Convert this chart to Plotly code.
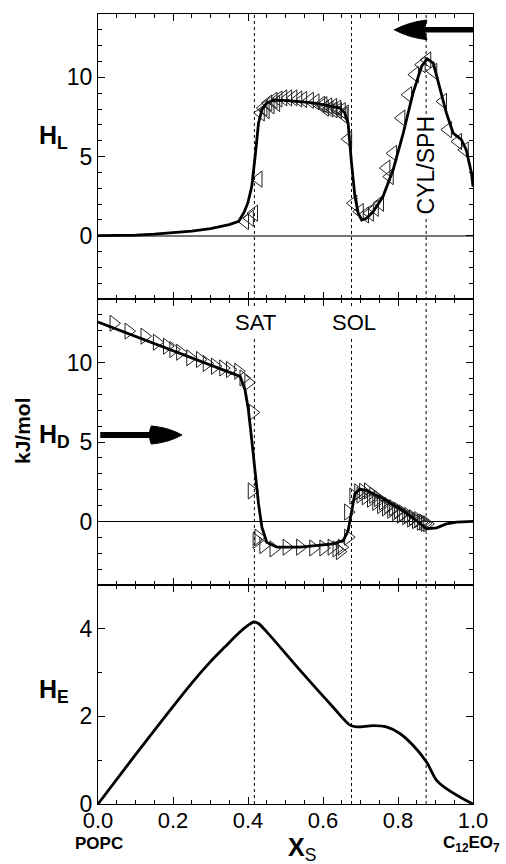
import plotly.graph_objects as go
from plotly.subplots import make_subplots

# ---------------- data ----------------
# H_L (top panel): fitted curve
hl_line_x = [0, 0.05, 0.10, 0.15, 0.20, 0.25, 0.30, 0.35, 0.375, 0.39, 0.40, 0.41, 0.419, 0.428,
             0.437, 0.45, 0.468, 0.494, 0.53, 0.574, 0.618, 0.645, 0.658, 0.667, 0.676, 0.685,
             0.694, 0.703, 0.716, 0.734, 0.76, 0.787, 0.814, 0.84, 0.863, 0.878, 0.894, 0.911,
             0.929, 0.947, 0.969, 0.982, 0.996, 1.0]
hl_line_y = [0, 0.01, 0.04, 0.10, 0.18, 0.29, 0.45, 0.70, 0.90, 1.5, 2.1, 3.1, 5.0, 7.1,
             7.96, 8.38, 8.55, 8.55, 8.48, 8.38, 8.2, 8.06, 7.75, 7.1, 4.6, 2.5,
             1.42, 0.99, 1.1, 1.52, 2.47, 4.16, 6.48, 9.0, 10.7, 11.16, 10.9, 9.43,
             7.75, 6.48, 6.06, 5.42, 3.95, 3.1]
# H_L measured points
hl_pts_x = [0.392, 0.405, 0.416, 0.428, 0.434, 0.441, 0.447, 0.454, 0.46, 0.468, 0.475, 0.481,
            0.494, 0.507, 0.521, 0.534, 0.547, 0.565, 0.58, 0.595, 0.601, 0.605, 0.614, 0.617,
            0.627, 0.628, 0.638, 0.64, 0.650, 0.655, 0.658, 0.667, 0.681, 0.698, 0.712, 0.725,
            0.738, 0.752, 0.769, 0.778, 0.787, 0.809, 0.827, 0.845, 0.863, 0.878, 0.894,
            0.920, 0.933, 0.960, 0.978]
hl_pts_y = [0.89, 1.1, 1.42, 3.57, 7.75, 8.06, 7.9, 8.38, 8.2, 8.55, 8.35, 8.63,
            8.70, 8.70, 8.70, 8.63, 8.6, 8.55, 8.45, 8.3, 8.27, 8.05, 8.2, 8.0,
            8.16, 7.95, 8.06, 7.9, 7.9, 7.6, 7.75, 6.1, 2.05, 1.52, 1.31, 1.42,
            1.73, 2.05, 4.27, 3.73, 5.2, 7.43, 8.9, 10.17, 10.8, 11.1, 10.38,
            8.48, 6.69, 5.95, 5.42]

# H_D (middle panel): fitted curve
hd_line_x = [0, 0.379, 0.392, 0.401, 0.41, 0.419, 0.428, 0.437, 0.45, 0.477, 0.539, 0.627,
             0.654, 0.667, 0.676, 0.685, 0.698, 0.716, 0.76, 0.805, 0.849, 0.876, 0.903,
             0.929, 0.956, 1.0]
hd_line_y = [12.55, 9.13, 8.29, 7.03, 5.13, 3.02, 1.12, -0.36, -1.31, -1.62, -1.62, -1.41,
             -1.2, -0.57, 0.70, 1.75, 2.02, 1.96, 1.44, 0.80, 0.06, -0.46, -0.4,
             -0.15, -0.04, 0.0]
# H_D measured points
hd_pts_x = [0.0415, 0.0815, 0.124, 0.157, 0.184, 0.201, 0.219, 0.246, 0.272, 0.29, 0.312,
            0.334, 0.352, 0.374, 0.388, 0.401, 0.413, 0.41, 0.423, 0.428, 0.441, 0.468,
            0.503, 0.539, 0.574, 0.601, 0.623, 0.636, 0.645, 0.650, 0.667, 0.667, 0.681,
            0.694, 0.70, 0.707, 0.714, 0.72, 0.728, 0.734, 0.742, 0.747, 0.755, 0.76,
            0.768, 0.774, 0.782, 0.787, 0.795, 0.80, 0.808, 0.813, 0.822, 0.827, 0.835,
            0.840, 0.848, 0.854, 0.861, 0.867, 0.872, 0.878]
hd_pts_y = [12.47, 11.98, 11.66, 11.28, 11.03, 10.82, 10.65, 10.3, 10.19, 9.94, 9.77,
            9.66, 9.56, 9.45, 9.03, 8.75, 6.86, 1.92, -1.2, -0.99, -1.52, -1.73,
            -1.62, -1.62, -1.67, -1.67, -1.62, -1.73, -1.9, -1.62, -0.99, 0.59, 1.6,
            1.86, 1.65, 1.9, 1.55, 1.92, 1.4, 1.65, 1.2, 1.44, 1.0, 1.22,
            0.85, 1.01, 0.7, 0.87, 0.55, 0.70, 0.4, 0.53, 0.3, 0.38, 0.15,
            0.23, 0.05, 0.11, -0.05, -0.04, -0.12, -0.15]

# H_E (bottom panel)
he_x = [0, 0.095, 0.184, 0.25, 0.30, 0.34, 0.37, 0.397, 0.416, 0.428, 0.45, 0.539, 0.627,
        0.672, 0.690, 0.734, 0.769, 0.805, 0.840, 0.876, 0.903, 0.929, 0.965, 1.0]
he_y = [0, 1.07, 2.05, 2.76, 3.25, 3.60, 3.86, 4.06, 4.16, 4.12, 3.93, 3.05, 2.21,
        1.80, 1.76, 1.79, 1.76, 1.61, 1.34, 0.96, 0.54, 0.35, 0.16, 0.0]

boundaries = [0.417, 0.676, 0.875]
x_ticks = [0.0, 0.2, 0.4, 0.6, 0.8, 1.0]
x_ticklabels = ["0.0", "0.2", "0.4", "0.6", "0.8", "1.0"]

# ---------------- figure ----------------
FONT = "Liberation Sans, Arial, Helvetica, sans-serif"
W, H = 506, 864
L, R, T, B = 98, 33, 14, 60

fig = make_subplots(rows=3, cols=1, shared_xaxes=True, vertical_spacing=0,
                    row_heights=[285, 286, 219])

line_style = dict(color="black", width=2.8)
mk_l = dict(symbol="triangle-left-open", size=14, color="#222", line=dict(width=1))
mk_r = dict(symbol="triangle-right-open", size=14, color="#222", line=dict(width=1))

fig.add_trace(go.Scatter(x=hl_pts_x, y=hl_pts_y, mode="markers", marker=mk_l), row=1, col=1)
fig.add_trace(go.Scatter(x=hl_line_x, y=hl_line_y, mode="lines", line=line_style), row=1, col=1)
fig.add_trace(go.Scatter(x=hd_pts_x, y=hd_pts_y, mode="markers", marker=mk_r), row=2, col=1)
fig.add_trace(go.Scatter(x=hd_line_x, y=hd_line_y, mode="lines", line=line_style), row=2, col=1)
fig.add_trace(go.Scatter(x=he_x, y=he_y, mode="lines",
                         line=dict(color="black", width=2.8, shape="spline", smoothing=0.8)),
              row=3, col=1)

axis_common = dict(showline=True, linecolor="black", linewidth=1.2, mirror="ticks",
                   ticks="inside", tickcolor="black", tickwidth=1.2, showgrid=False)
yfont = dict(family=FONT, size=23, color="black")
xfont = dict(family=FONT, size=22, color="black")

for r in (1, 2, 3):
    fig.update_xaxes(range=[0, 1], tickvals=x_ticks, ticktext=x_ticklabels, ticklen=7,
                     minor=dict(dtick=0.05, tick0=0, ticks="inside", ticklen=4,
                                tickcolor="black", tickwidth=1, showgrid=False),
                     zeroline=False, showticklabels=(r == 3), ticklabelstandoff=-4,
                     tickfont=xfont, **axis_common, row=r, col=1)

fig.update_yaxes(range=[-4, 14], dtick=5, tick0=0, ticklen=7, tickfont=yfont,
                 minor=dict(dtick=1, tick0=0, ticks="inside", ticklen=4, tickcolor="black",
                            tickwidth=1, showgrid=False),
                 zeroline=True, zerolinecolor="#777", zerolinewidth=1.5,
                 **axis_common, row=1, col=1)
fig.update_yaxes(range=[-4, 14], dtick=5, tick0=0, ticklen=7, tickfont=yfont,
                 minor=dict(dtick=1, tick0=0, ticks="inside", ticklen=4, tickcolor="black",
                            tickwidth=1, showgrid=False),
                 zeroline=True, zerolinecolor="black", zerolinewidth=1.2,
                 **axis_common, row=2, col=1)
fig.update_yaxes(range=[0, 5], dtick=2, tick0=0, ticklen=7, tickfont=yfont,
                 minor=dict(dtick=1, tick0=0, ticks="inside", ticklen=4, tickcolor="black",
                            tickwidth=1, showgrid=False),
                 zeroline=False, **axis_common, row=3, col=1)

shapes = []
for xb in boundaries:
    shapes.append(dict(type="line", xref="x3", yref="paper", x0=xb, x1=xb, y0=0, y1=1,
                       line=dict(color="black", width=1, dash="dot"), layer="below"))

# arrows (top: pointing left; middle: pointing right)
shapes.append(dict(type="line", xref="x", yref="y", x0=0.86, x1=1.0, y0=13.0, y1=13.0,
                   line=dict(color="black", width=5.5)))
shapes.append(dict(type="path", xref="x", yref="y",
                   path="M 0.79,13.0 Q 0.83,13.5 0.877,13.62 L 0.870,13.0 L 0.877,12.38 Q 0.83,12.5 0.79,13.0 Z",
                   fillcolor="black", line=dict(color="black", width=1)))
shapes.append(dict(type="line", xref="x2", yref="y2", x0=0.006, x1=0.16, y0=5.44, y1=5.44,
                   line=dict(color="black", width=6)))
shapes.append(dict(type="path", xref="x2", yref="y2",
                   path="M 0.224,5.44 Q 0.19,5.9 0.142,6.01 Q 0.132,5.44 0.142,4.87 Q 0.19,4.98 0.224,5.44 Z",
                   fillcolor="black", line=dict(color="black", width=1)))

def px2paper(px, py):
    return (px - L) / (W - L - R), (H - B - py) / (H - T - B)

annotations = []
tfont = dict(family=FONT, size=22, color="black")
annotations.append(dict(x=0.42, y=12.5, xref="x2", yref="y2", text="SAT", showarrow=False,
                        font=tfont, bgcolor="white", borderpad=1))
annotations.append(dict(x=0.682, y=12.5, xref="x2", yref="y2", text="SOL", showarrow=False,
                        font=tfont, bgcolor="white", borderpad=1))
annotations.append(dict(x=0.874, y=4.42, xref="x", yref="y", text="CYL/SPH", showarrow=False,
                        textangle=-90, font=dict(family=FONT, size=23, color="black"),
                        bgcolor="white", borderpad=1))

bfont = dict(family=FONT, size=25, color="black")
for txt, (px, py) in [("<b>H<sub>L</sub></b>", (53.5, 137)),
                      ("<b>H<sub>D</sub></b>", (54, 436)),
                      ("<b>H<sub>E</sub></b>", (54, 691))]:
    ax, ay = px2paper(px, py)
    annotations.append(dict(x=ax, y=ay, xref="paper", yref="paper", text=txt, showarrow=False,
                            font=bfont, xanchor="center", yanchor="middle"))

ax, ay = px2paper(23, 431)
annotations.append(dict(x=ax, y=ay, xref="paper", yref="paper", text="<b>kJ/mol</b>",
                        showarrow=False, textangle=-90, xanchor="center", yanchor="middle",
                        font=dict(family=FONT, size=21, color="black")))
ax, ay = px2paper(99, 843)
annotations.append(dict(x=ax, y=ay, xref="paper", yref="paper", text="<b>POPC</b>",
                        showarrow=False, font=dict(family=FONT, size=17, color="black"),
                        xanchor="center", yanchor="middle"))
ax, ay = px2paper(286, 849)
annotations.append(dict(x=ax, y=ay, xref="paper", yref="paper", text="<b>X</b><sub>S</sub>",
                        showarrow=False, font=dict(family=FONT, size=25, color="black"),
                        xanchor="left", yanchor="middle"))
ax, ay = px2paper(441, 844)
annotations.append(dict(x=ax, y=ay, xref="paper", yref="paper",
                        text="<b>C<sub>12</sub>EO<sub>7</sub></b>",
                        showarrow=False, font=dict(family=FONT, size=17, color="black"),
                        xanchor="left", yanchor="middle"))

fig.update_layout(width=W, height=H, margin=dict(l=L, r=R, t=T, b=B),
                  plot_bgcolor="white", paper_bgcolor="white", showlegend=False,
                  shapes=shapes, annotations=annotations,
                  font=dict(family=FONT, color="black"))

fig.write_html("out.html")
